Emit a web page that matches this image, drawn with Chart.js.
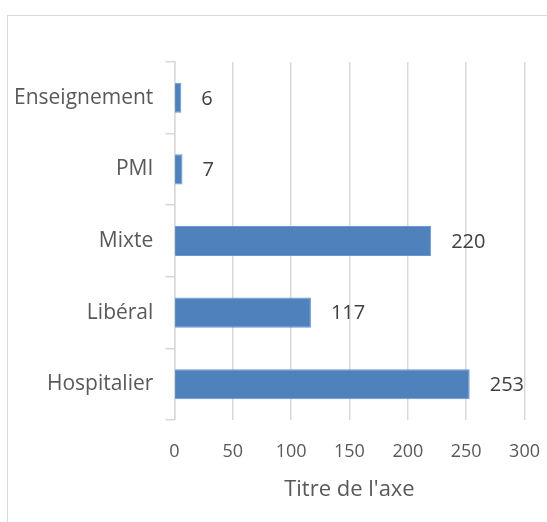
<!DOCTYPE html>
<html><head><meta charset="utf-8">
<script src="https://cdn.jsdelivr.net/npm/chart.js@4/dist/chart.umd.min.js"></script>
<style>
html,body{margin:0;padding:0;background:#fff;}
#frame{position:absolute;left:7px;top:15px;width:620px;height:620px;border:1.5px solid #d9d9d9;box-sizing:border-box;}
#wrap{position:absolute;left:0;top:0;width:547px;height:522px;}
</style></head>
<body>
<div id="frame"></div>
<div id="wrap"><canvas id="c" width="547" height="522"></canvas></div>
<script>
const categories = ["Enseignement", "PMI", "Mixte", "Libéral", "Hospitalier"];
const values = [6, 7, 220, 117, 253];
const xTicks = [0, 50, 100, 150, 200, 250, 300];
const axisTitle = "Titre de l'axe";

const FONT = "'Open Sans', 'Noto Sans', sans-serif";
const labelPlugin = {
  id: 'vlabels',
  afterDatasetsDraw(chart) {
    const ctx = chart.ctx;
    const meta = chart.getDatasetMeta(0);
    ctx.save();
    ctx.font = "20px " + FONT;
    ctx.fillStyle = "#404040";
    ctx.textBaseline = "middle";
    ctx.textAlign = "left";
    meta.data.forEach((bar, i) => {
      ctx.fillText(String(values[i]), bar.x + 20, bar.y + 1);
    });
    ctx.restore();
  }
};

new Chart(document.getElementById('c'), {
  type: 'bar',
  data: {
    labels: categories,
    datasets: [{
      data: values,
      backgroundColor: '#4f81bd',
      borderColor: '#6a97cf',
      borderWidth: 1,
      barPercentage: 0.42,
      categoryPercentage: 1.0
    }]
  },
  options: {
    indexAxis: 'y',
    responsive: false,
    animation: false,
    devicePixelRatio: 1,
    layout: { padding: { left: 2, right: 10, top: 62, bottom: 19 } },
    plugins: { legend: { display: false }, tooltip: { enabled: false } },
    scales: {
      x: {
        min: 0, max: 300,
        afterBuildTicks(scale) { scale.ticks = xTicks.map(v => ({ value: v })); },
        grid: { color: '#d9d9d9', lineWidth: 1.5, drawTicks: true, tickLength: 14, tickColor: 'rgba(0,0,0,0)' },
        border: { display: false },
        ticks: { color: '#595959', font: { family: FONT, size: 18 }, padding: 7 },
        title: { display: true, text: axisTitle, color: '#595959', font: { family: FONT, size: 22 }, padding: { top: 7, bottom: 0 } }
      },
      y: {
        grid: { offset: true, drawOnChartArea: false, color: '#d9d9d9', lineWidth: 1.5, tickLength: 9 },
        border: { display: true, color: '#d9d9d9', width: 1.5 },
        ticks: { color: '#595959', font: { family: FONT, size: 21 }, padding: 12 }
      }
    }
  },
  plugins: [labelPlugin]
});
</script>
</body></html>
